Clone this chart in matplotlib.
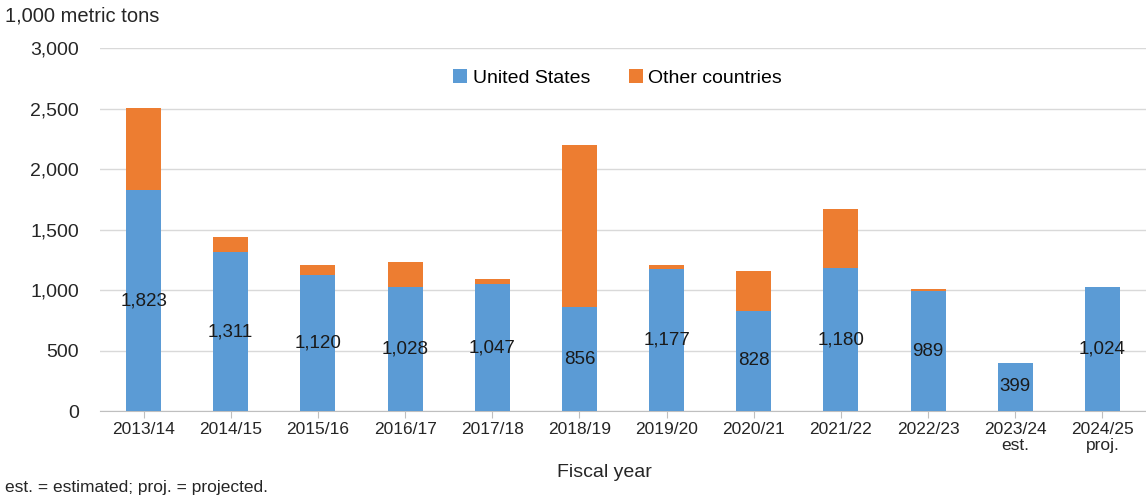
import matplotlib
matplotlib.use('agg')
import matplotlib.pyplot as plt
import numpy as np

plt.rcParams['font.family'] = ['Liberation Sans', 'DejaVu Sans']

# Exports by destination, 1,000 metric tons
years = ['2013/14', '2014/15', '2015/16', '2016/17', '2017/18', '2018/19',
         '2019/20', '2020/21', '2021/22', '2022/23', '2023/24\nest.', '2024/25\nproj.']
united_states = [1823, 1311, 1120, 1028, 1047, 856, 1177, 828, 1180, 989, 399, 1024]
other_countries = [677, 129, 87, 201, 41, 1342, 30, 332, 492, 17, 0, 0]

blue = '#5B9BD5'
orange = '#ED7D31'

fig = plt.figure(figsize=(11.46, 4.98), dpi=100)
ax = fig.add_axes([100 / 1146, 87 / 498, 1046 / 1146, 363 / 498])

x = np.arange(len(years))
us = np.array(united_states)
oc = np.array(other_countries)
ax.bar(x, us, width=0.4, color=blue, label='United States', zorder=3)
ax.bar(x, oc, width=0.4, bottom=us, color=orange, label='Other countries', zorder=3)

# value labels sit in the middle of the US segment
for xi, v in zip(x, us):
    ax.text(xi, v / 2, '{:,}'.format(v), ha='center', va='center',
            fontsize=13.5, color='#1a1a1a', zorder=4)

ax.set_xlim(-0.5, len(years) - 0.5)
ax.set_ylim(0, 3000)
ax.set_yticks(np.arange(0, 3001, 500))
ax.set_yticklabels(['{:,}'.format(v) for v in range(0, 3001, 500)], fontsize=14)
ax.set_xticks(x)
ax.set_xticklabels(years, fontsize=12.5, linespacing=1.05)
ax.tick_params(axis='y', length=0, pad=15, colors='#262626')
ax.tick_params(axis='x', length=5, color='#bfbfbf', colors='#262626', pad=3)

ax.grid(axis='y', color='#d9d9d9', linewidth=1, zorder=0)
for side in ['top', 'right', 'left']:
    ax.spines[side].set_visible(False)
ax.spines['bottom'].set_color('#bfbfbf')

ax.legend(loc='upper center', bbox_to_anchor=(0.495, 0.99), ncol=2, frameon=False,
          fontsize=14, handlelength=0.7, handleheight=0.7, columnspacing=2.0,
          handletextpad=0.3)

fig.text(5 / 1146, 1 - 16 / 498, '1,000 metric tons', fontsize=14.5, va='center',
         color='#262626')
fig.text(604 / 1146, 1 - 472 / 498, 'Fiscal year', fontsize=14, ha='center',
         va='center', color='#262626')
fig.text(5 / 1146, 1 - 487 / 498, 'est. = estimated; proj. = projected.', fontsize=12.5,
         va='center', color='#262626')

fig.savefig('out.png', dpi=100)
